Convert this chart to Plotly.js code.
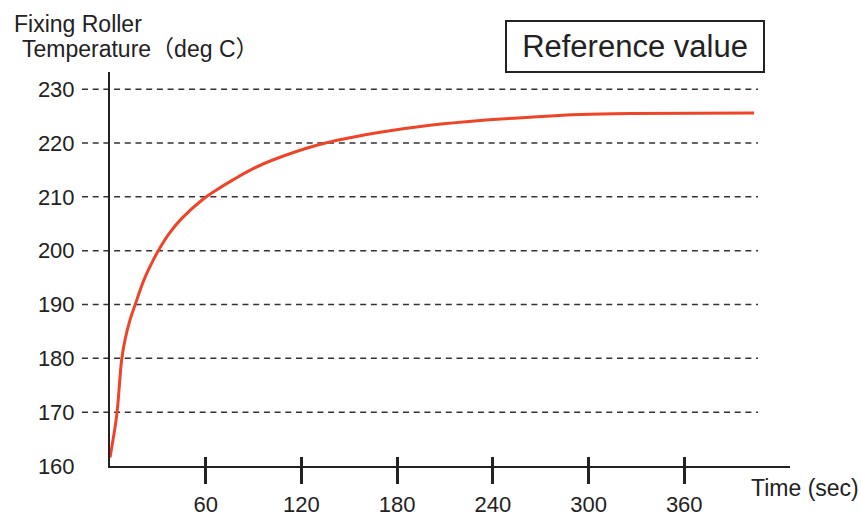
<!DOCTYPE html>
<html>
<head>
<meta charset="utf-8">
<script src="https://cdn.plot.ly/plotly-3.0.1.min.js"></script>
<style>html,body{margin:0;padding:0;background:#fff;}#chart{width:861px;height:516px;}</style>
</head>
<body>
<div id="chart"></div>
<script>
// Data
const timeSec = [0, 4.2, 7.3, 9.4, 12.5, 15.7, 20.9, 24.0, 29.9, 36.6, 45.0, 58.5, 65.8, 77.3, 90.0, 102.4, 129.6, 150.5, 169.3, 200.6, 232, 263.3, 294.7, 326, 403.8];
const tempC   = [161.6, 169.4, 179.7, 183.4, 187.1, 189.9, 194.3, 196.4, 199.8, 203.0, 206.0, 209.6, 211.1, 213.2, 215.3, 216.9, 219.6, 221.0, 222.0, 223.3, 224.2, 224.8, 225.3, 225.5, 225.6];
const xTicks = [60, 120, 180, 240, 300, 360];
const yTicks = [160, 170, 180, 190, 200, 210, 220, 230];
const gridValues = [170, 180, 190, 200, 210, 220, 230];
const yTitleLines = ["Fixing Roller", "Temperature（deg C）"];
const xTitle = "Time (sec)";
const boxLabel = "Reference value";

const numFont = {family: "'Liberation Sans Narrow', 'Arial Narrow', 'Liberation Sans', Arial, sans-serif", size: 22, color: '#222'};
const txtFont = {family: "'Liberation Sans', Arial, 'Noto Sans CJK JP', sans-serif", size: 23, color: '#222'};

const shapes = gridValues.map(v => ({
  type: 'line', xref: 'paper', yref: 'y', x0: -0.0412, x1: 0.953, y0: v, y1: v,
  line: {color: '#333', width: 1.5, dash: '6px,4.7px'}, layer: 'below'
}));

const data = [{
  x: timeSec, y: tempC, type: 'scatter', mode: 'lines',
  line: {color: '#EE4528', width: 3, shape: 'spline', smoothing: 1}, hoverinfo: 'skip'
}, {
  x: [], y: [], xaxis: 'x2', yaxis: 'y', type: 'scatter', mode: 'lines'
}];

const layout = {
  width: 861, height: 516,
  margin: {l: 110, r: 71, t: 72, b: 50},
  paper_bgcolor: '#fff', plot_bgcolor: '#fff',
  showlegend: false,
  xaxis: {
    range: [0, 426.3], tickvals: xTicks, ticktext: xTicks.map(String),
    ticks: 'outside', ticklen: 16, tickwidth: 3, tickcolor: '#222',
    showline: true, linecolor: '#222', linewidth: 2,
    showgrid: false, zeroline: false, tickfont: numFont, ticklabelstandoff: 2
  },
  xaxis2: {
    range: [0, 426.3], overlaying: 'x', anchor: 'y', tickvals: xTicks,
    ticks: 'inside', ticklen: 9, tickwidth: 3, tickcolor: '#222',
    showticklabels: false, showline: false, showgrid: false, zeroline: false
  },
  yaxis: {
    range: [160, 233.2], tickvals: yTicks, ticktext: yTicks.map(String),
    ticks: '', showline: true, linecolor: '#222', linewidth: 2,
    showgrid: false, zeroline: false, tickfont: numFont, ticklabelstandoff: 29
  },
  shapes: shapes,
  annotations: [
    {text: yTitleLines[0], xref: 'paper', yref: 'paper', x: -0.1441, y: 1.1218, xanchor: 'left', yanchor: 'middle', showarrow: false, font: txtFont},
    {text: yTitleLines[1], xref: 'paper', yref: 'paper', x: -0.1324, y: 1.0584, xanchor: 'left', yanchor: 'middle', showarrow: false, font: txtFont},
    {text: xTitle, xref: 'paper', yref: 'paper', x: 0.939, y: -0.0558, xanchor: 'left', yanchor: 'middle', showarrow: false, font: txtFont},
    {text: boxLabel, xref: 'paper', yref: 'paper', x: 0.772, y: 1.0647, xanchor: 'center', yanchor: 'middle', showarrow: false,
     font: {family: txtFont.family, size: 31, color: '#222'}, bordercolor: '#222', borderwidth: 2, borderpad: 0, width: 256, height: 49, bgcolor: '#fff'}
  ]
};

Plotly.newPlot('chart', data, layout, {staticPlot: true, displayModeBar: false});
</script>
</body>
</html>
